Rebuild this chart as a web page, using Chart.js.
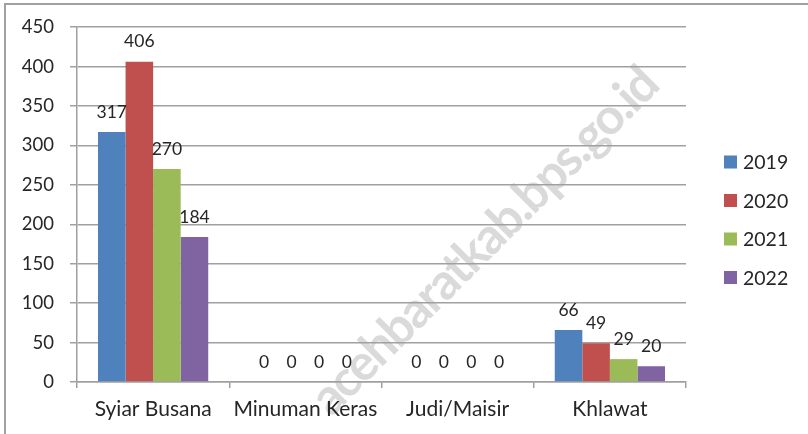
<!DOCTYPE html>
<html>
<head>
<meta charset="utf-8">
<script src="https://cdn.jsdelivr.net/npm/chart.js@4/dist/chart.umd.min.js"></script>
<style>
  html, body { margin: 0; padding: 0; background: #fff; }
  #wrap { width: 808px; height: 434px; position: relative; }
</style>
</head>
<body>
<div id="wrap"><canvas id="c" width="808" height="434"></canvas></div>
<script>
const categories = ['Syiar Busana', 'Minuman Keras', 'Judi/Maisir', 'Khlawat'];
const seriesNames = ['2019', '2020', '2021', '2022'];
const values2019 = [317, 0, 0, 66];
const values2020 = [406, 0, 0, 49];
const values2021 = [270, 0, 0, 29];
const values2022 = [184, 0, 0, 20];
const yMin = 0, yMax = 450, yStep = 50;
const colors = ['#4F81BD', '#C0504D', '#9BBB59', '#8064A2'];
const watermarkText = 'acehbaratkab.bps.go.id';

const FONT = "Lato, 'Open Sans', sans-serif";
const TEXT = '#262626';
const GRID = '#a0a0a0';

const seriesValues = [values2019, values2020, values2021, values2022];

const labelPlugin = {
  id: 'valueLabels',
  afterDatasetsDraw(chart) {
    const ctx = chart.ctx;
    ctx.save();
    ctx.font = "17.5px " + FONT;
    ctx.fillStyle = TEXT;
    ctx.textAlign = 'center';
    ctx.textBaseline = 'middle';
    chart.data.datasets.forEach((ds, i) => {
      const meta = chart.getDatasetMeta(i);
      meta.data.forEach((bar, j) => {
        ctx.fillText(String(ds.data[j]), bar.x, bar.y - 20);
      });
    });
    ctx.restore();
  }
};

const legendPlugin = {
  id: 'sideLegend',
  afterDraw(chart) {
    const ctx = chart.ctx;
    const area = chart.chartArea;
    ctx.save();
    ctx.font = "19.5px " + FONT;
    ctx.textBaseline = 'middle';
    ctx.textAlign = 'left';
    const x0 = area.right + 38;
    const y0 = 162;
    const gap = 38.5;
    chart.data.datasets.forEach((ds, i) => {
      const cy = y0 + i * gap;
      ctx.fillStyle = ds.backgroundColor;
      ctx.fillRect(x0, cy - 6.5, 13, 13);
      ctx.fillStyle = TEXT;
      ctx.fillText(ds.label, x0 + 19, cy + 1);
    });
    ctx.restore();
  }
};

const framePlugin = {
  id: 'frame',
  beforeDraw(chart) {
    const ctx = chart.ctx;
    ctx.save();
    ctx.fillStyle = '#fff';
    ctx.fillRect(0, 0, chart.width, chart.height);
    // watermark (behind the grid)
    ctx.translate(661, 88);
    ctx.rotate(-Math.PI / 4);
    ctx.font = "bold 50px Lato, 'Open Sans', sans-serif";
    try { ctx.letterSpacing = '-2px'; } catch (e) {}
    ctx.fillStyle = '#dadada';
    ctx.textAlign = 'right';
    ctx.textBaseline = 'alphabetic';
    ctx.fillText(watermarkText, 0, 0);
    ctx.restore();
  },
  afterDraw(chart) {
    const ctx = chart.ctx;
    ctx.save();
    ctx.strokeStyle = '#a0a0a0';
    ctx.lineWidth = 2;
    ctx.beginPath();
    ctx.moveTo(5, chart.height);
    ctx.lineTo(5, 4);
    ctx.lineTo(chart.width, 4);
    ctx.stroke();
    ctx.restore();
  }
};

new Chart(document.getElementById('c'), {
  type: 'bar',
  data: {
    labels: categories,
    datasets: seriesNames.map((name, i) => ({
      label: name,
      data: seriesValues[i],
      backgroundColor: colors[i],
      borderWidth: 0,
      barPercentage: 1,
      categoryPercentage: 0.724
    }))
  },
  options: {
    responsive: false,
    animation: false,
    devicePixelRatio: 1,
    layout: { padding: { left: 0, top: 27, right: 122, bottom: 0 } },
    plugins: {
      legend: { display: false },
      tooltip: { enabled: false }
    },
    scales: {
      x: {
        offset: true,
        grid: { display: true, offset: true, drawOnChartArea: false, drawTicks: true, tickLength: 6, color: GRID, lineWidth: 1.5 },
        border: { display: true, color: GRID, width: 1.5 },
        ticks: { color: TEXT, font: { family: FONT, size: 21 }, padding: 9, maxRotation: 0 },
        afterFit(scale) { scale.height = 52; }
      },
      y: {
        min: yMin, max: yMax,
        ticks: { stepSize: yStep, color: TEXT, font: { family: FONT, size: 18.5 }, padding: 16 },
        grid: { color: GRID, lineWidth: 1.5, tickLength: 7 },
        border: { display: true, color: GRID, width: 1.5 },
        afterFit(scale) { scale.width = 77; }
      }
    }
  },
  plugins: [framePlugin, labelPlugin, legendPlugin]
});
</script>
</body>
</html>
